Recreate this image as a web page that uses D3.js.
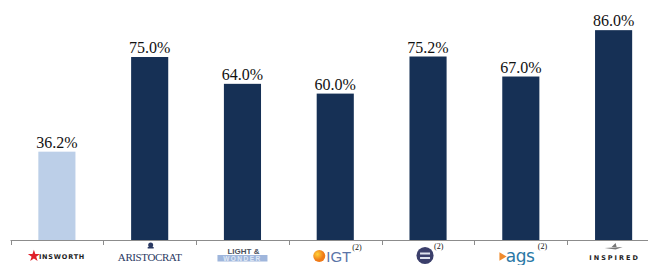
<!DOCTYPE html>
<html lang="en">
<head>
  <meta charset="UTF-8">
  <title>Bar chart</title>
  <script src="https://d3js.org/d3.v7.min.js"></script>
  <style>
    body { margin: 0; padding: 0; background: #fff; }
    svg { display: block; }
    .val { font-family: "Liberation Serif", "Times New Roman", serif; font-size: 16px; fill: #111; }
  </style>
</head>
<body>
  <div id="chart"></div>
  <script>
    const width = 648;
    const height = 265;

    // data
    const companies = ["Ainsworth", "Aristocrat", "Light & Wonder", "IGT", "Everi", "AGS", "Inspired"];
    const values = [36.2, 75.0, 64.0, 60.0, 75.2, 67.0, 86.0];
    const labels = ["36.2%", "75.0%", "64.0%", "60.0%", "75.2%", "67.0%", "86.0%"];
    const highlight = ["Ainsworth"];

    const baseY = 240;

    const svg = d3.select("#chart").append("svg")
      .attr("width", width)
      .attr("height", height);

    const x = d3.scaleBand()
      .domain(companies)
      .range([10.5, 660])
      .paddingInner(0.6)
      .paddingOuter(0.3);

    // bands without padding, used for the tick marks between categories
    const xCell = d3.scaleBand()
      .domain(companies)
      .range([10.5, 660]);

    const y = d3.scaleLinear()
      .domain([0, 100])
      .range([baseY, -4]);

    // bars
    svg.selectAll(".bar")
      .data(companies)
      .join("rect")
      .attr("class", "bar")
      .attr("x", d => x(d))
      .attr("y", (d, i) => y(values[i]))
      .attr("width", x.bandwidth())
      .attr("height", (d, i) => baseY - y(values[i]))
      .attr("fill", d => highlight.includes(d) ? "#bccfe8" : "#163055");

    // value labels
    svg.selectAll(".val")
      .data(companies)
      .join("text")
      .attr("class", "val")
      .attr("x", d => x(d) + x.bandwidth() / 2)
      .attr("y", (d, i) => y(values[i]) - 4)
      .attr("text-anchor", "middle")
      .text((d, i) => labels[i]);

    // axis line + ticks
    svg.append("line")
      .attr("x1", 10.5).attr("x2", width)
      .attr("y1", baseY + 0.5).attr("y2", baseY + 0.5)
      .attr("stroke", "#8c8c8c").attr("stroke-width", 1);

    svg.selectAll(".tick")
      .data(companies)
      .join("line")
      .attr("class", "tick")
      .attr("x1", d => Math.round(xCell(d)) + 0.5)
      .attr("x2", d => Math.round(xCell(d)) + 0.5)
      .attr("y1", baseY).attr("y2", baseY + 5)
      .attr("stroke", "#8c8c8c");

    // logo-like category labels, drawn as text
    const cx = d => x(d) + x.bandwidth() / 2;
    const g = svg.append("g");

    // Ainsworth
    {
      const c = cx("Ainsworth");
      g.append("path")
        .attr("d", d3.symbol().type(d3.symbolStar).size(45)())
        .attr("transform", `translate(${c - 23},256)`)
        .attr("fill", "#e0202a");
      g.append("text")
        .attr("x", c - 18).attr("y", 258.5)
        .attr("font-family", "DejaVu Sans, sans-serif")
        .attr("font-size", 6.5).attr("font-weight", "bold")
        .attr("letter-spacing", 0.8)
        .attr("fill", "#222")
        .text("INSWORTH");
    }

    // Aristocrat
    {
      const c = cx("Aristocrat");
      g.append("circle").attr("cx", c + 1).attr("cy", 245).attr("r", 2.5).attr("fill", "#2b3a63");
      g.append("rect").attr("x", c - 2).attr("y", 247).attr("width", 6).attr("height", 1.5).attr("fill", "#2b3a63");
      g.append("text")
        .attr("x", c).attr("y", 260.5)
        .attr("text-anchor", "middle")
        .attr("font-family", "Liberation Serif, serif")
        .attr("font-size", 11)
        .attr("letter-spacing", -0.4)
        .attr("fill", "#2b3a63")
        .text("ARISTOCRAT");
    }

    // Light & Wonder
    {
      const c = cx("Light & Wonder");
      g.append("text")
        .attr("x", c + 1).attr("y", 253.5)
        .attr("text-anchor", "middle")
        .attr("font-family", "Liberation Sans, sans-serif")
        .attr("font-size", 8).attr("font-weight", "bold")
        .attr("fill", "#4a4f5c")
        .text("LIGHT &");
      g.append("rect")
        .attr("x", c - 25).attr("y", 255).attr("width", 50).attr("height", 6.5)
        .attr("fill", "#9fb6dc");
      g.append("text")
        .attr("x", c).attr("y", 260.5)
        .attr("text-anchor", "middle")
        .attr("font-family", "Liberation Sans, sans-serif")
        .attr("font-size", 6.5).attr("font-weight", "bold")
        .attr("letter-spacing", 1.5)
        .attr("fill", "#dfe8f5")
        .text("WONDER");
    }

    // IGT
    {
      const c = cx("IGT");
      const grad = svg.append("defs").append("radialGradient").attr("id", "igtg")
        .attr("cx", "35%").attr("cy", "35%");
      grad.append("stop").attr("offset", "0%").attr("stop-color", "#ffd23a");
      grad.append("stop").attr("offset", "100%").attr("stop-color", "#f07a17");
      g.append("circle").attr("cx", c - 16).attr("cy", 256).attr("r", 6).attr("fill", "url(#igtg)");
      g.append("text")
        .attr("x", c - 9).attr("y", 262)
        .attr("font-family", "Liberation Sans, sans-serif")
        .attr("font-size", 15)
        .attr("fill", "#5a74a8")
        .text("IGT");
      g.append("text")
        .attr("x", c + 17).attr("y", 250)
        .attr("font-family", "Liberation Serif, serif")
        .attr("font-size", 8).attr("fill", "#111")
        .text("(2)");
    }

    // Everi
    {
      const c = cx("Everi");
      g.append("path")
        .attr("d", d3.symbol().type(d3.symbolCircle).size(230)())
        .attr("transform", `translate(${c - 3},255.5)`)
        .attr("fill", "#3b3f6b");
      g.append("rect").attr("x", c - 8).attr("y", 252.5).attr("width", 10).attr("height", 2).attr("fill", "#dfe3ef");
      g.append("rect").attr("x", c - 8).attr("y", 257).attr("width", 10).attr("height", 2).attr("fill", "#dfe3ef");
      g.append("text")
        .attr("x", c + 6).attr("y", 249)
        .attr("font-family", "Liberation Serif, serif")
        .attr("font-size", 8).attr("fill", "#111")
        .text("(2)");
    }

    // AGS
    {
      const c = cx("AGS");
      g.append("path")
        .attr("d", d3.symbol().type(d3.symbolTriangle).size(30)())
        .attr("transform", `translate(${c - 19},256.5) rotate(90)`)
        .attr("fill", "#f08a2c");
      g.append("text")
        .attr("x", c - 15).attr("y", 262)
        .attr("font-family", "DejaVu Sans, sans-serif")
        .attr("font-size", 17)
        .attr("letter-spacing", -0.5)
        .attr("fill", "#2a78a6")
        .text("ags");
      g.append("text")
        .attr("x", c + 17).attr("y", 249)
        .attr("font-family", "Liberation Serif, serif")
        .attr("font-size", 8).attr("fill", "#111")
        .text("(2)");
    }

    // Inspired
    {
      const c = cx("Inspired");
      g.append("path")
        .attr("d", `M${c - 9},248 L${c + 9},247 L${c + 2},249.5 Z M${c - 2},247 L${c + 2},243 L${c + 3},247 Z`)
        .attr("fill", "#777");
      g.append("text")
        .attr("x", c + 1).attr("y", 260)
        .attr("text-anchor", "middle")
        .attr("font-family", "DejaVu Sans, sans-serif")
        .attr("font-size", 6.5).attr("font-weight", "bold")
        .attr("letter-spacing", 2)
        .attr("fill", "#222")
        .text("INSPIRED");
    }
  </script>
</body>
</html>
